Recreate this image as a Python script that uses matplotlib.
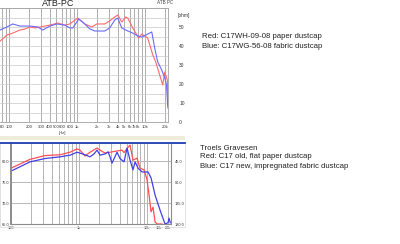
import matplotlib.pyplot as plt
from matplotlib.lines import Line2D
from matplotlib.patches import Rectangle
from matplotlib.ticker import FixedLocator, FixedFormatter, NullFormatter

plt.rcParams['font.family'] = ['Liberation Sans', 'DejaVu Sans']

# top chart: impedance-like curves (ohm) vs frequency (Hz)
top_red_f = [74, 84, 93.5, 114, 145, 172, 204, 241, 286, 338, 401, 526, 667, 789,
             1034, 1311, 1662, 1970, 2580, 3055, 3622, 4008, 4590, 5250, 5623, 6660,
             8160, 9040, 11070, 13130, 14520, 16600, 18400, 19700, 21500, 21900]
top_red_v = [42.6, 44.2, 45.8, 46.8, 48.4, 48.9, 50.0, 49.5, 50.0, 50.5, 51.0, 52.1,
             51.0, 51.6, 54.7, 51.6, 50.0, 51.6, 51.6, 53.2, 55.3, 56.3, 52.6, 55.3,
             54.7, 49.5, 44.2, 46.3, 44.2, 35.3, 31.6, 24.7, 19.5, 26.3, 22.1, 8.9]
top_blue_f = [74, 93.5, 114, 145, 204, 267, 316, 401, 508, 667, 789, 873, 1070, 1311,
              1553, 1840, 2580, 3055, 3622, 4008, 4590, 5623, 6660, 7885, 9040, 11070,
              12690, 14030, 15530, 17780, 19700, 20900, 21900]
top_blue_v = [48.4, 50.0, 51.6, 50.5, 50.5, 50.0, 48.4, 50.5, 51.6, 51.0, 49.5, 49.5,
              54.2, 51.6, 49.0, 47.9, 47.9, 49.5, 53.7, 54.7, 49.5, 47.9, 46.8, 45.3,
              44.7, 46.3, 47.4, 38.9, 31.6, 27.4, 23.2, 19.5, 7.4]
top_xticks = [80, 100, 200, 300, 400, 500, 600, 800, 1000, 2000, 3000, 4000, 5000,
              6000, 7000, 8000, 10000, 20000]
top_xlabels = ['80', '100', '200', '300', '400', '500', '600', '800', '1k', '2k', '3k',
               '4k', '5k', '6k', '7k', '8k', '10k', '20k']
top_yticks = [0, 10, 20, 30, 40, 50]

# bottom chart: SPL (dB) vs frequency (Hz)
bot_red_f = [100, 190, 316, 526, 738, 934, 1034, 1225, 1451, 1840, 2036, 2412, 2856,
             3622, 4290, 4590, 5080, 5623, 6220, 7130, 7885, 9040, 10000, 10700, 11450,
             12250, 13120, 14030, 16620]
bot_red_v = [88.3, 90.4, 91.3, 91.5, 92.1, 92.9, 92.6, 91.2, 92.1, 93.1, 92.6, 91.9,
             92.1, 92.4, 92.6, 92.0, 93.0, 93.8, 90.2, 90.7, 88.3, 87.9, 85.5, 81.9,
             77.9, 79.0, 75.5, 75.0, 75.0]
bot_blue_f = [100, 190, 316, 526, 738, 934, 1034, 1225, 1451, 1662, 1840, 2036, 2412,
              2670, 2856, 3055, 3622, 4008, 4590, 5080, 5623, 6220, 6660, 7380, 8440,
              10350, 11450, 13120, 15530, 18400, 20360, 21000, 22000]
bot_blue_v = [87.6, 89.8, 90.6, 91.0, 91.4, 92.1, 91.9, 91.5, 91.0, 91.7, 92.6, 91.4,
              91.7, 92.2, 91.0, 89.5, 92.1, 90.6, 89.8, 93.1, 90.2, 87.9, 89.8, 88.3,
              87.4, 87.4, 86.0, 81.9, 78.3, 75.0, 75.3, 76.4, 75.3]
bot_xticks = [100, 1000, 10000, 15000, 20000]
bot_xlabels = ['100', '1k', '10k', '15k', '20k']
bot_yticks = [75, 80, 85, 90]
bot_ylabels = ['65.0', '70.0', '75.0', '80.0']
bot_rlabels = ['180.0', '135.0', '90.0', '45.0']

W, H = 400, 244


def box(x0, y0, x1, y1):
    # pixel box (top-left origin) -> figure fraction rect
    return [x0 / W, 1 - y1 / H, (x1 - x0) / W, (y1 - y0) / H]


fig = plt.figure(figsize=(4, 2.44), dpi=100)

# ---- top chart
ax = fig.add_axes(box(0, 8, 168, 122))
ax.set_xscale('log')
ax.set_xlim(74, 22000)
ax.set_ylim(0, 60)
for f in top_xticks + [90, 700, 900, 9000]:
    ax.axvline(f, color='#a0a0a0', lw=0.6, zorder=0)
for v in range(0, 61, 5):
    ax.axhline(v, color='#c8c8c8', lw=0.5, zorder=0)
ax.plot(top_red_f, top_red_v, color='#ff6a6a', lw=0.8)
ax.plot(top_blue_f, top_blue_v, color='#6a6aff', lw=0.8)
ax.xaxis.set_major_locator(FixedLocator(top_xticks))
ax.xaxis.set_major_formatter(FixedFormatter(top_xlabels))
ax.xaxis.set_minor_formatter(NullFormatter())
ax.set_yticks(top_yticks)
ax.yaxis.tick_right()
ax.tick_params(axis='x', which='both', length=0, pad=2, labelsize=3.1, colors='#333333')
ax.tick_params(axis='y', length=0, pad=8, labelsize=3.5, colors='#333333')
for s in ax.spines.values():
    s.set_color('#a0a0a0')
    s.set_linewidth(0.6)
ax.spines['left'].set_visible(False)
fig.text(62 / W, 1 - 133 / H, '[Hz]', fontsize=3.0, color='#333333', ha='center', va='center')
fig.text(178 / W, 1 - 15 / H, '[ohm]', fontsize=3.5, color='#333333', va='center')
fig.text(58 / W, 1 - 3 / H, 'ATB-PC', fontsize=6.5, color='#222222', ha='center', va='center')
fig.text(165 / W, 1 - 3 / H, 'ATB PC', fontsize=3.3, color='#444444', ha='center', va='center')
fig.add_artist(Rectangle((0, 1 - 140 / H), 185 / W, 4 / H, transform=fig.transFigure,
                         facecolor='#efedd9', edgecolor='none'))

# ---- bottom chart
bx = fig.add_axes(box(11, 143, 171, 224))
bx.set_xscale('log')
bx.set_xlim(100, 22500)
bx.set_ylim(75, 94.3)
for f in [200, 300, 400, 500, 600, 700, 800, 900, 1000, 2000, 3000, 4000, 5000, 6000,
          7000, 8000, 9000, 10000, 20000]:
    bx.axvline(f, color='#a8a8a8', lw=0.6, zorder=0)
for v in bot_yticks:
    bx.axhline(v, color='#b8b8b8', lw=0.7, zorder=0)
bx.plot(bot_red_f, bot_red_v, color='#ff5050', lw=0.9, clip_on=True)
bx.plot(bot_blue_f, bot_blue_v, color='#4040e6', lw=0.9, clip_on=True)
bx.xaxis.set_major_locator(FixedLocator(bot_xticks))
bx.xaxis.set_major_formatter(FixedFormatter(bot_xlabels))
bx.xaxis.set_minor_formatter(NullFormatter())
bx.tick_params(axis='x', which='both', length=0, pad=1.5, labelsize=2.8, colors='#333333')
bx.set_yticks(bot_yticks)
bx.set_yticklabels(bot_ylabels)
bx.tick_params(axis='y', length=0, pad=1.5, labelsize=2.8, colors='#333333')
for s in bx.spines.values():
    s.set_color('#8c8c8c')
    s.set_linewidth(0.8)
bx.spines['left'].set_linewidth(1.4)
bx.spines['top'].set_visible(False)
rx = bx.twinx()
rx.set_ylim(75, 94.3)
rx.set_yticks(bot_yticks)
rx.set_yticklabels(bot_rlabels)
rx.tick_params(axis='y', length=0, pad=3, labelsize=2.8, colors='#333333')
for s in rx.spines.values():
    s.set_visible(False)
fig.add_artist(Rectangle((0, 1 - 227 / H), 185 / W, 84 / H, transform=fig.transFigure,
                         facecolor='none', edgecolor='#d8d8d8', lw=0.5))
fig.add_artist(Line2D([0, 185 / W], [1 - 143 / H, 1 - 143 / H], transform=fig.transFigure,
                      color='#1f3fb0', lw=1.3))

# ---- captions
fs = 5.6
fig.text(202 / W, 1 - 37 / H, 'Red: C17WH-09-08 paper dustcap', fontsize=fs, color='#222222', va='center')
fig.text(202 / W, 1 - 46 / H, 'Blue: C17WG-56-08 fabric dustcap', fontsize=fs, color='#222222', va='center')
fig.text(200 / W, 1 - 148 / H, 'Troels Gravesen', fontsize=fs, color='#222222', va='center')
fig.text(200 / W, 1 - 157 / H, 'Red: C17 old, flat paper dustcap', fontsize=fs, color='#222222', va='center')
fig.text(200 / W, 1 - 166 / H, 'Blue: C17 new, impregnated fabric dustcap', fontsize=fs, color='#222222', va='center')

fig.savefig('out.png', dpi=100)
